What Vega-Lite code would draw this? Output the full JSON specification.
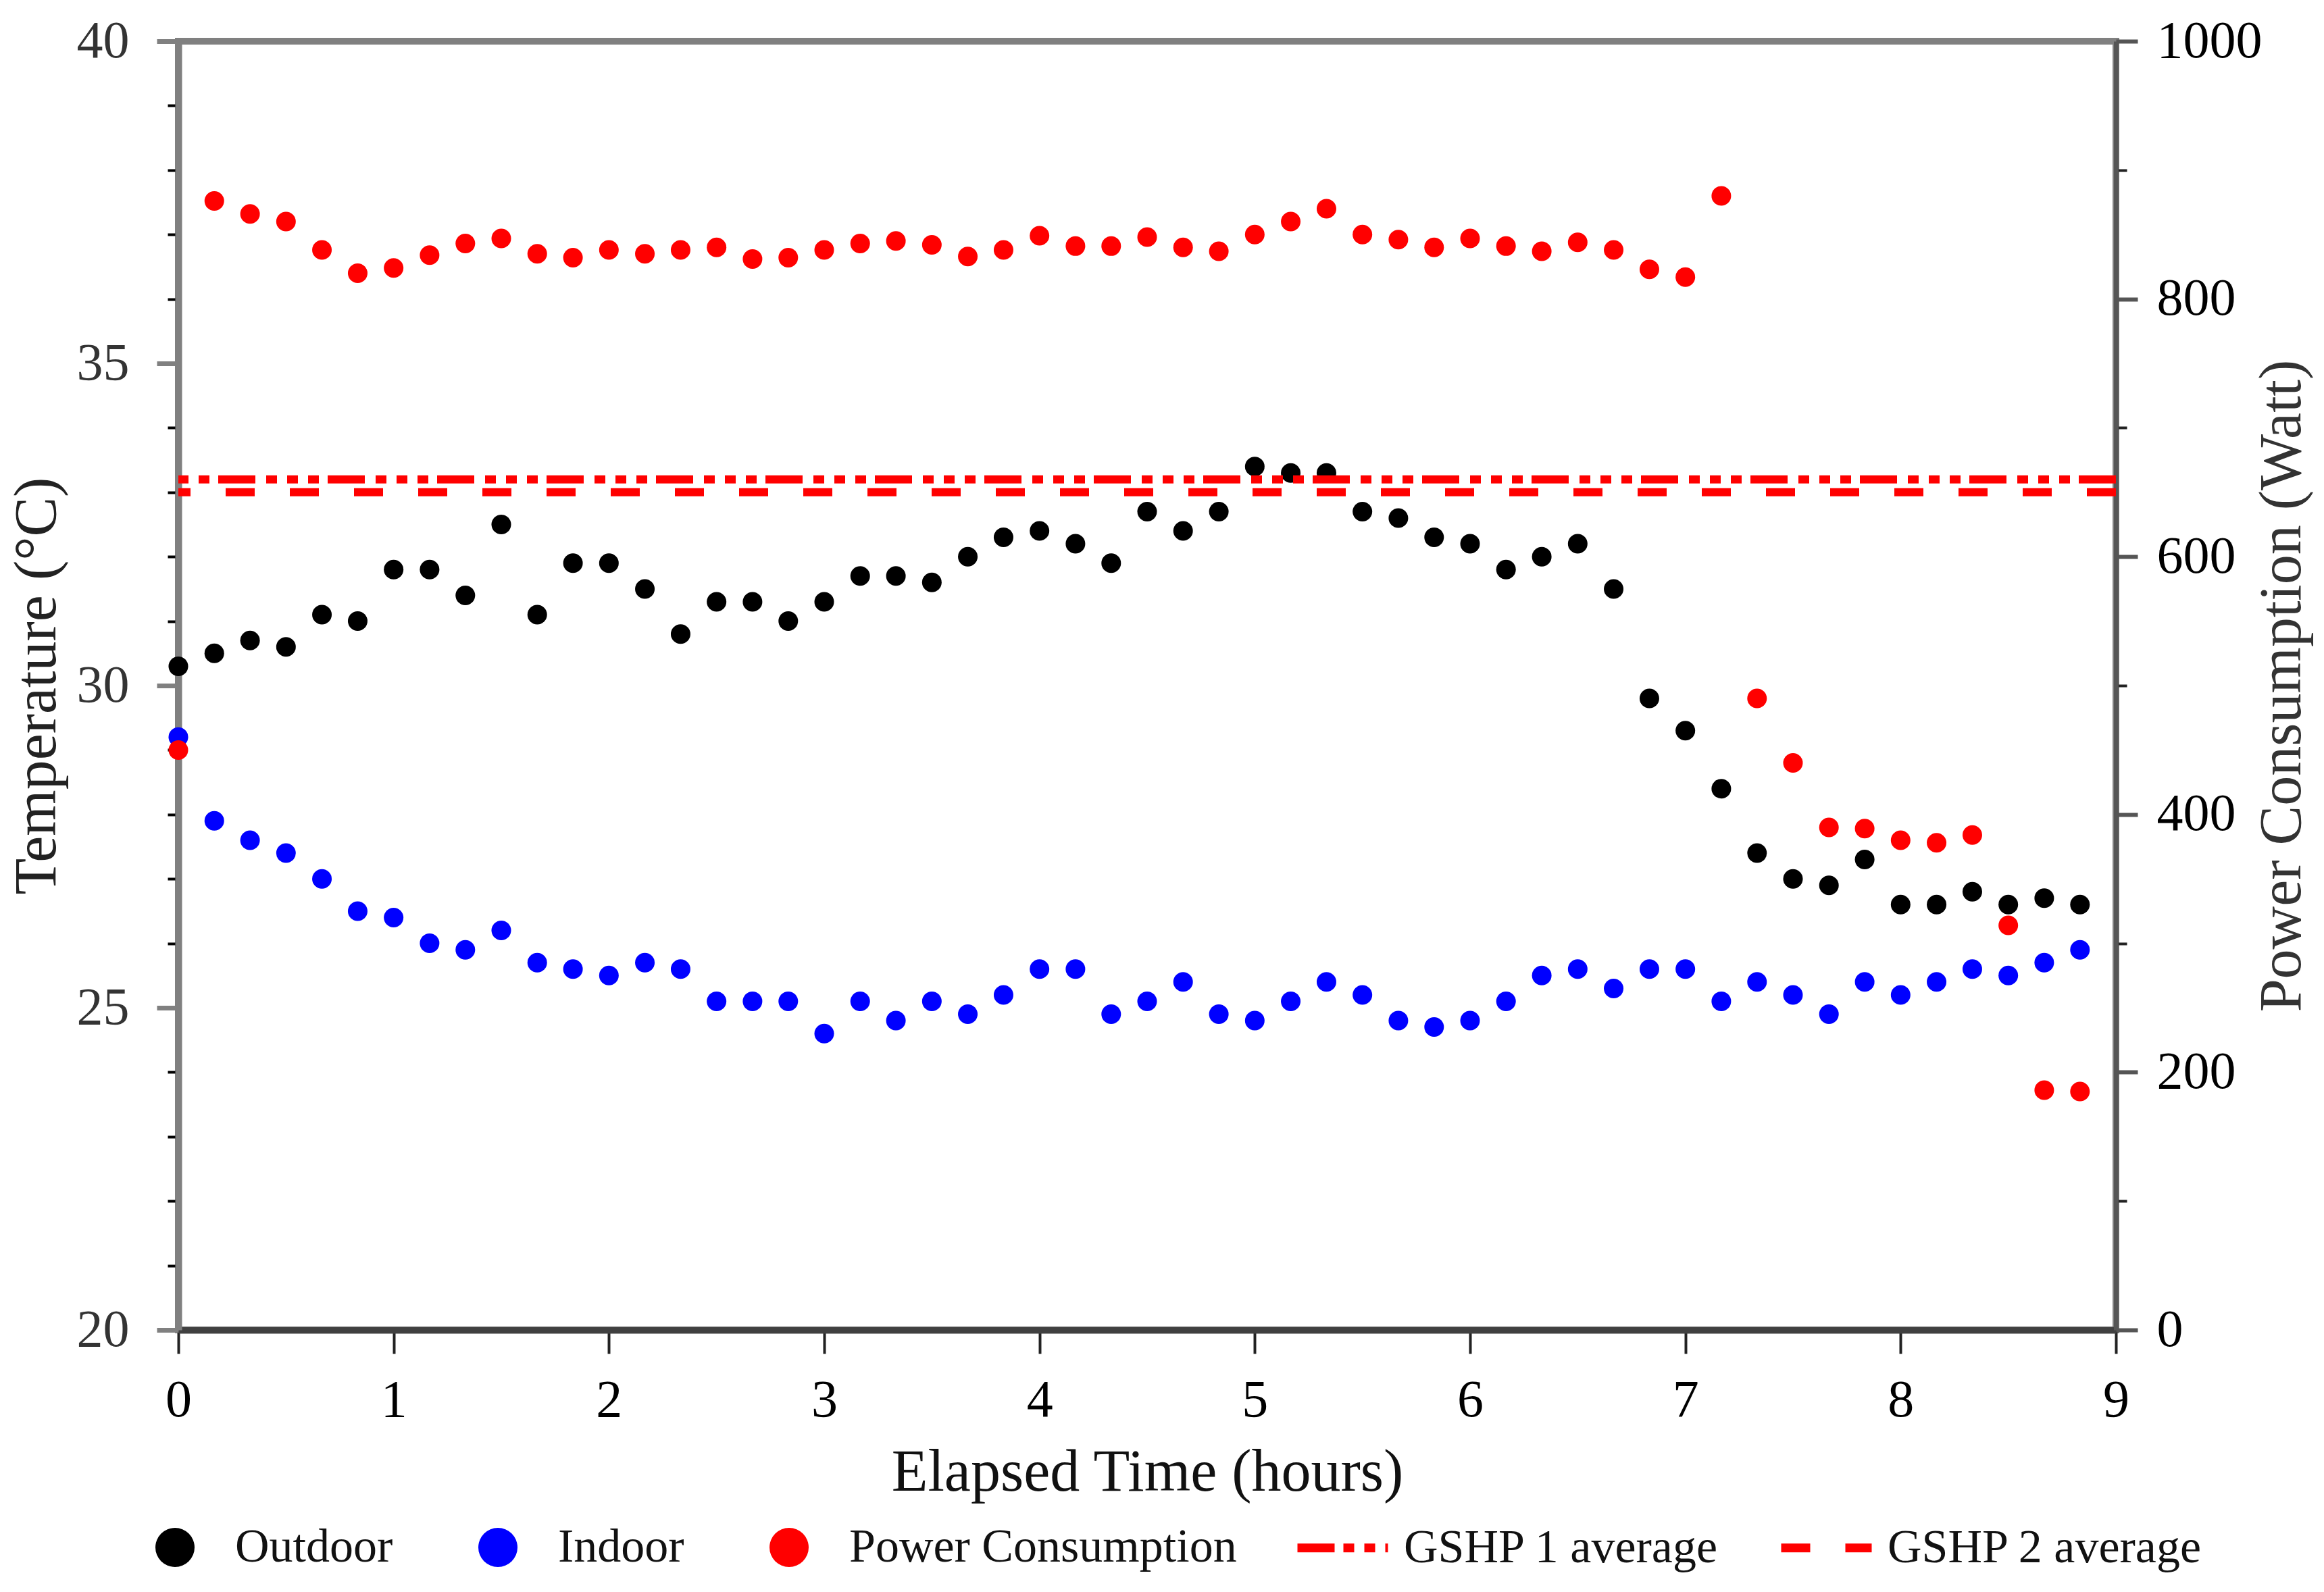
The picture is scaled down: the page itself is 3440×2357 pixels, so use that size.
{
  "$schema": "https://vega.github.io/schema/vega-lite/v6.json",
  "width": 2868,
  "height": 1908,
  "autosize": {"type": "none"},
  "padding": {"left": 264, "top": 61, "right": 308, "bottom": 388},
  "background": "white",
  "config": {
    "view": {"stroke": "#808080", "strokeWidth": 10},
    "font": "Liberation Serif",
    "axis": {"labelFont": "Liberation Serif", "titleFont": "Liberation Serif", "titleFontWeight": "normal", "grid": false, "labelFontSize": 78, "titleFontSize": 88, "labelFlush": false, "labelOverlap": false, "labelLimit": 0},
    "legend": {"labelFont": "Liberation Serif", "labelFontSize": 70, "labelColor": "#111111", "labelLimit": 0}
  },
  "datasets": {
    "temp": [
      {"hours": 0, "series": "Outdoor", "temp": 30.3},
      {"hours": 0.167, "series": "Outdoor", "temp": 30.5},
      {"hours": 0.333, "series": "Outdoor", "temp": 30.7},
      {"hours": 0.5, "series": "Outdoor", "temp": 30.6},
      {"hours": 0.667, "series": "Outdoor", "temp": 31.1},
      {"hours": 0.833, "series": "Outdoor", "temp": 31.0},
      {"hours": 1, "series": "Outdoor", "temp": 31.8},
      {"hours": 1.167, "series": "Outdoor", "temp": 31.8},
      {"hours": 1.333, "series": "Outdoor", "temp": 31.4},
      {"hours": 1.5, "series": "Outdoor", "temp": 32.5},
      {"hours": 1.667, "series": "Outdoor", "temp": 31.1},
      {"hours": 1.833, "series": "Outdoor", "temp": 31.9},
      {"hours": 2, "series": "Outdoor", "temp": 31.9},
      {"hours": 2.167, "series": "Outdoor", "temp": 31.5},
      {"hours": 2.333, "series": "Outdoor", "temp": 30.8},
      {"hours": 2.5, "series": "Outdoor", "temp": 31.3},
      {"hours": 2.667, "series": "Outdoor", "temp": 31.3},
      {"hours": 2.833, "series": "Outdoor", "temp": 31.0},
      {"hours": 3, "series": "Outdoor", "temp": 31.3},
      {"hours": 3.167, "series": "Outdoor", "temp": 31.7},
      {"hours": 3.333, "series": "Outdoor", "temp": 31.7},
      {"hours": 3.5, "series": "Outdoor", "temp": 31.6},
      {"hours": 3.667, "series": "Outdoor", "temp": 32.0},
      {"hours": 3.833, "series": "Outdoor", "temp": 32.3},
      {"hours": 4, "series": "Outdoor", "temp": 32.4},
      {"hours": 4.167, "series": "Outdoor", "temp": 32.2},
      {"hours": 4.333, "series": "Outdoor", "temp": 31.9},
      {"hours": 4.5, "series": "Outdoor", "temp": 32.7},
      {"hours": 4.667, "series": "Outdoor", "temp": 32.4},
      {"hours": 4.833, "series": "Outdoor", "temp": 32.7},
      {"hours": 5, "series": "Outdoor", "temp": 33.4},
      {"hours": 5.167, "series": "Outdoor", "temp": 33.3},
      {"hours": 5.333, "series": "Outdoor", "temp": 33.3},
      {"hours": 5.5, "series": "Outdoor", "temp": 32.7},
      {"hours": 5.667, "series": "Outdoor", "temp": 32.6},
      {"hours": 5.833, "series": "Outdoor", "temp": 32.3},
      {"hours": 6, "series": "Outdoor", "temp": 32.2},
      {"hours": 6.167, "series": "Outdoor", "temp": 31.8},
      {"hours": 6.333, "series": "Outdoor", "temp": 32.0},
      {"hours": 6.5, "series": "Outdoor", "temp": 32.2},
      {"hours": 6.667, "series": "Outdoor", "temp": 31.5},
      {"hours": 6.833, "series": "Outdoor", "temp": 29.8},
      {"hours": 7, "series": "Outdoor", "temp": 29.3},
      {"hours": 7.167, "series": "Outdoor", "temp": 28.4},
      {"hours": 7.333, "series": "Outdoor", "temp": 27.4},
      {"hours": 7.5, "series": "Outdoor", "temp": 27.0},
      {"hours": 7.667, "series": "Outdoor", "temp": 26.9},
      {"hours": 7.833, "series": "Outdoor", "temp": 27.3},
      {"hours": 8, "series": "Outdoor", "temp": 26.6},
      {"hours": 8.167, "series": "Outdoor", "temp": 26.6},
      {"hours": 8.333, "series": "Outdoor", "temp": 26.8},
      {"hours": 8.5, "series": "Outdoor", "temp": 26.6},
      {"hours": 8.667, "series": "Outdoor", "temp": 26.7},
      {"hours": 8.833, "series": "Outdoor", "temp": 26.6},
      {"hours": 0, "series": "Indoor", "temp": 29.2},
      {"hours": 0.167, "series": "Indoor", "temp": 27.9},
      {"hours": 0.333, "series": "Indoor", "temp": 27.6},
      {"hours": 0.5, "series": "Indoor", "temp": 27.4},
      {"hours": 0.667, "series": "Indoor", "temp": 27.0},
      {"hours": 0.833, "series": "Indoor", "temp": 26.5},
      {"hours": 1, "series": "Indoor", "temp": 26.4},
      {"hours": 1.167, "series": "Indoor", "temp": 26.0},
      {"hours": 1.333, "series": "Indoor", "temp": 25.9},
      {"hours": 1.5, "series": "Indoor", "temp": 26.2},
      {"hours": 1.667, "series": "Indoor", "temp": 25.7},
      {"hours": 1.833, "series": "Indoor", "temp": 25.6},
      {"hours": 2, "series": "Indoor", "temp": 25.5},
      {"hours": 2.167, "series": "Indoor", "temp": 25.7},
      {"hours": 2.333, "series": "Indoor", "temp": 25.6},
      {"hours": 2.5, "series": "Indoor", "temp": 25.1},
      {"hours": 2.667, "series": "Indoor", "temp": 25.1},
      {"hours": 2.833, "series": "Indoor", "temp": 25.1},
      {"hours": 3, "series": "Indoor", "temp": 24.6},
      {"hours": 3.167, "series": "Indoor", "temp": 25.1},
      {"hours": 3.333, "series": "Indoor", "temp": 24.8},
      {"hours": 3.5, "series": "Indoor", "temp": 25.1},
      {"hours": 3.667, "series": "Indoor", "temp": 24.9},
      {"hours": 3.833, "series": "Indoor", "temp": 25.2},
      {"hours": 4, "series": "Indoor", "temp": 25.6},
      {"hours": 4.167, "series": "Indoor", "temp": 25.6},
      {"hours": 4.333, "series": "Indoor", "temp": 24.9},
      {"hours": 4.5, "series": "Indoor", "temp": 25.1},
      {"hours": 4.667, "series": "Indoor", "temp": 25.4},
      {"hours": 4.833, "series": "Indoor", "temp": 24.9},
      {"hours": 5, "series": "Indoor", "temp": 24.8},
      {"hours": 5.167, "series": "Indoor", "temp": 25.1},
      {"hours": 5.333, "series": "Indoor", "temp": 25.4},
      {"hours": 5.5, "series": "Indoor", "temp": 25.2},
      {"hours": 5.667, "series": "Indoor", "temp": 24.8},
      {"hours": 5.833, "series": "Indoor", "temp": 24.7},
      {"hours": 6, "series": "Indoor", "temp": 24.8},
      {"hours": 6.167, "series": "Indoor", "temp": 25.1},
      {"hours": 6.333, "series": "Indoor", "temp": 25.5},
      {"hours": 6.5, "series": "Indoor", "temp": 25.6},
      {"hours": 6.667, "series": "Indoor", "temp": 25.3},
      {"hours": 6.833, "series": "Indoor", "temp": 25.6},
      {"hours": 7, "series": "Indoor", "temp": 25.6},
      {"hours": 7.167, "series": "Indoor", "temp": 25.1},
      {"hours": 7.333, "series": "Indoor", "temp": 25.4},
      {"hours": 7.5, "series": "Indoor", "temp": 25.2},
      {"hours": 7.667, "series": "Indoor", "temp": 24.9},
      {"hours": 7.833, "series": "Indoor", "temp": 25.4},
      {"hours": 8, "series": "Indoor", "temp": 25.2},
      {"hours": 8.167, "series": "Indoor", "temp": 25.4},
      {"hours": 8.333, "series": "Indoor", "temp": 25.6},
      {"hours": 8.5, "series": "Indoor", "temp": 25.5},
      {"hours": 8.667, "series": "Indoor", "temp": 25.7},
      {"hours": 8.833, "series": "Indoor", "temp": 25.9}
    ],
    "power": [
      {"hours": 0, "series": "Power Consumption", "watt": 450},
      {"hours": 0.167, "series": "Power Consumption", "watt": 876},
      {"hours": 0.333, "series": "Power Consumption", "watt": 866},
      {"hours": 0.5, "series": "Power Consumption", "watt": 860},
      {"hours": 0.667, "series": "Power Consumption", "watt": 838},
      {"hours": 0.833, "series": "Power Consumption", "watt": 820},
      {"hours": 1, "series": "Power Consumption", "watt": 824},
      {"hours": 1.167, "series": "Power Consumption", "watt": 834},
      {"hours": 1.333, "series": "Power Consumption", "watt": 843},
      {"hours": 1.5, "series": "Power Consumption", "watt": 847},
      {"hours": 1.667, "series": "Power Consumption", "watt": 835},
      {"hours": 1.833, "series": "Power Consumption", "watt": 832},
      {"hours": 2, "series": "Power Consumption", "watt": 838},
      {"hours": 2.167, "series": "Power Consumption", "watt": 835},
      {"hours": 2.333, "series": "Power Consumption", "watt": 838},
      {"hours": 2.5, "series": "Power Consumption", "watt": 840},
      {"hours": 2.667, "series": "Power Consumption", "watt": 831},
      {"hours": 2.833, "series": "Power Consumption", "watt": 832},
      {"hours": 3, "series": "Power Consumption", "watt": 838},
      {"hours": 3.167, "series": "Power Consumption", "watt": 843},
      {"hours": 3.333, "series": "Power Consumption", "watt": 845},
      {"hours": 3.5, "series": "Power Consumption", "watt": 842},
      {"hours": 3.667, "series": "Power Consumption", "watt": 833},
      {"hours": 3.833, "series": "Power Consumption", "watt": 838},
      {"hours": 4, "series": "Power Consumption", "watt": 849},
      {"hours": 4.167, "series": "Power Consumption", "watt": 841},
      {"hours": 4.333, "series": "Power Consumption", "watt": 841},
      {"hours": 4.5, "series": "Power Consumption", "watt": 848},
      {"hours": 4.667, "series": "Power Consumption", "watt": 840},
      {"hours": 4.833, "series": "Power Consumption", "watt": 837},
      {"hours": 5, "series": "Power Consumption", "watt": 850},
      {"hours": 5.167, "series": "Power Consumption", "watt": 860},
      {"hours": 5.333, "series": "Power Consumption", "watt": 870},
      {"hours": 5.5, "series": "Power Consumption", "watt": 850},
      {"hours": 5.667, "series": "Power Consumption", "watt": 846},
      {"hours": 5.833, "series": "Power Consumption", "watt": 840},
      {"hours": 6, "series": "Power Consumption", "watt": 847},
      {"hours": 6.167, "series": "Power Consumption", "watt": 841},
      {"hours": 6.333, "series": "Power Consumption", "watt": 837},
      {"hours": 6.5, "series": "Power Consumption", "watt": 844},
      {"hours": 6.667, "series": "Power Consumption", "watt": 838},
      {"hours": 6.833, "series": "Power Consumption", "watt": 823},
      {"hours": 7, "series": "Power Consumption", "watt": 817},
      {"hours": 7.167, "series": "Power Consumption", "watt": 880},
      {"hours": 7.333, "series": "Power Consumption", "watt": 490},
      {"hours": 7.5, "series": "Power Consumption", "watt": 440},
      {"hours": 7.667, "series": "Power Consumption", "watt": 390},
      {"hours": 7.833, "series": "Power Consumption", "watt": 389},
      {"hours": 8, "series": "Power Consumption", "watt": 380},
      {"hours": 8.167, "series": "Power Consumption", "watt": 378},
      {"hours": 8.333, "series": "Power Consumption", "watt": 384},
      {"hours": 8.5, "series": "Power Consumption", "watt": 314},
      {"hours": 8.667, "series": "Power Consumption", "watt": 186},
      {"hours": 8.833, "series": "Power Consumption", "watt": 185}
    ],
    "avg": [
      {"line": "GSHP 1 average", "watt": 660},
      {"line": "GSHP 2 average", "watt": 650}
    ]
  },
  "layer": [
    {
      "data": {"name": "temp"},
      "mark": {"type": "point", "filled": true, "shape": "circle", "size": 841, "opacity": 1},
      "encoding": {
        "x": {
          "field": "hours", "type": "quantitative",
          "scale": {"domain": [0, 9], "nice": false, "zero": false},
          "axis": {
            "title": "Elapsed Time (hours)",
            "values": [0, 1, 2, 3, 4, 5, 6, 7, 8, 9],
            "format": "d",
            "tickSize": 35, "tickWidth": 4, "tickColor": "#222222",
            "domainColor": "#404040", "domainWidth": 10,
            "labelPadding": 30, "labelColor": "#000000",
            "titlePadding": 24, "titleColor": "#111111"
          }
        },
        "y": {
          "field": "temp", "type": "quantitative",
          "scale": {"domain": [20, 40], "nice": false, "zero": false},
          "axis": {
            "orient": "left",
            "title": "Temperature (°C)",
            "values": [20, 21, 22, 23, 24, 25, 26, 27, 28, 29, 30, 31, 32, 33, 34, 35, 36, 37, 38, 39, 40],
            "format": "d",
            "labelExpr": "datum.value % 5 === 0 ? datum.label : ''",
            "tickSize": {"condition": {"test": "datum.value % 5 === 0", "value": 32}, "value": 16},
            "tickWidth": {"condition": {"test": "datum.value % 5 === 0", "value": 7}, "value": 4},
            "tickColor": {"condition": {"test": "datum.value % 5 === 0", "value": "#808080"}, "value": "#000000"},
            "domainColor": "#808080", "domainWidth": 10,
            "labelPadding": 41, "labelColor": "#333333",
            "titlePadding": 14, "titleColor": "#222222"
          }
        },
        "color": {
          "field": "series", "type": "nominal",
          "scale": {"domain": ["Outdoor", "Indoor", "Power Consumption"], "range": ["#000000", "#0000ff", "#ff0000"]},
          "legend": {
            "orient": "none", "legendX": -40, "legendY": 2195,
            "direction": "horizontal", "title": null,
            "symbolType": "circle", "symbolSize": 3364, "symbolStrokeWidth": 0,
            "labelOffset": 54, "columnPadding": 120
          }
        }
      }
    },
    {
      "encoding": {
        "y": {
          "field": "watt", "type": "quantitative",
          "scale": {"domain": [0, 1000], "nice": false, "zero": false},
          "axis": {
            "orient": "right",
            "title": "Power Consumption (Watt)",
            "titleAngle": 270,
            "titleBaseline": "top",
            "values": [0, 100, 200, 300, 400, 500, 600, 700, 800, 900, 1000],
            "format": "d",
            "labelExpr": "datum.value % 200 === 0 ? datum.label : ''",
            "tickSize": {"condition": {"test": "datum.value % 200 === 0", "value": 32}, "value": 16},
            "tickWidth": {"condition": {"test": "datum.value % 200 === 0", "value": 6}, "value": 4},
            "tickColor": {"condition": {"test": "datum.value % 200 === 0", "value": "#555555"}, "value": "#222222"},
            "domainColor": "#555555", "domainWidth": 7,
            "labelPadding": 28, "labelColor": "#000000",
            "titlePadding": 2, "titleColor": "#333333"
          }
        }
      },
      "layer": [
        {
          "data": {"name": "avg"},
          "mark": {"type": "rule", "color": "#ff0000", "strokeWidth": 12},
          "encoding": {
            "strokeDash": {
              "field": "line", "type": "nominal",
              "scale": {"domain": ["GSHP 1 average", "GSHP 2 average"], "range": [[55, 13, 16, 15, 16, 15, 16, 16], [43, 52]]},
              "legend": {
                "orient": "none", "legendX": 1650, "legendY": 2157,
                "direction": "horizontal", "title": null,
                "symbolType": "stroke", "symbolSize": 17956, "symbolStrokeWidth": 13, "symbolStrokeColor": "#ff0000",
                "labelOffset": 17, "columnPadding": 65
              }
            }
          }
        },
        {
          "data": {"name": "power"},
          "mark": {"type": "point", "filled": true, "shape": "circle", "size": 841, "opacity": 1},
          "encoding": {
            "x": {"field": "hours", "type": "quantitative"},
            "color": {"field": "series", "type": "nominal"}
          }
        }
      ]
    }
  ],
  "resolve": {"scale": {"y": "independent"}}
}
